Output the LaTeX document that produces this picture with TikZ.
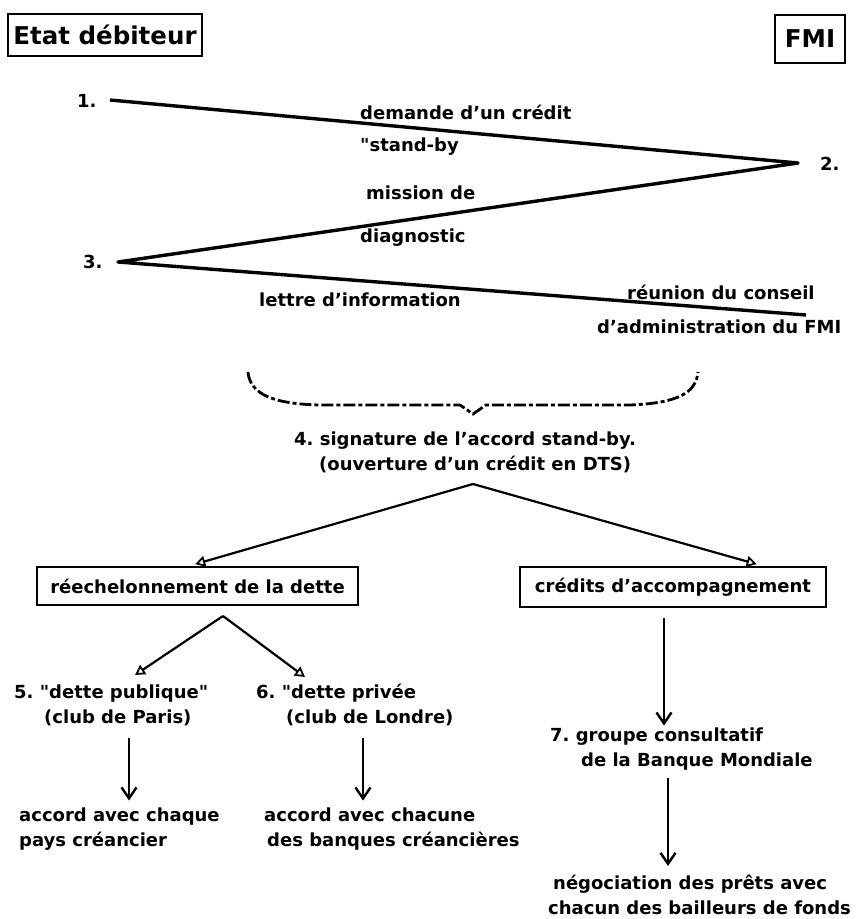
\documentclass[tikz,border=0pt]{standalone}
\usepackage{fontspec}
\setmainfont{DejaVu Sans}
\usetikzlibrary{arrows.meta, calc}

\begin{document}
\frenchspacing
\begin{tikzpicture}[x=1pt, y=-1pt,
    txt/.style={font=\bfseries\fontsize{18}{25}\selectfont, inner sep=0pt, align=left, anchor=west},
    party/.style={draw, line width=2.4pt, inner sep=0pt, font=\bfseries\fontsize{24.5}{28}\selectfont},
    stage/.style={draw, line width=2.4pt, inner sep=0pt, font=\bfseries\fontsize{18}{25}\selectfont},
    zig/.style={line width=3.4pt, line join=round},
    fork/.style={-{Triangle[open, length=10pt, width=11pt, line width=1.8pt]}, line width=2.2pt, shorten >=6pt},
    down/.style={-{Straight Barb[length=11pt, width=15pt]}, line width=2.4pt}
]
    \useasboundingbox (0,0) rectangle (863,919);

    % the two parties
    \node[party, minimum width=194pt, minimum height=42pt] (etat) at (105,35) {Etat débiteur};
    \node[party, minimum width=70pt, minimum height=48pt] (fmi) at (810,39) {FMI};

    % negotiation steps
    \node[txt] (n1) at (77,101) {1.};
    \node[txt] (n2) at (820,164) {2.};
    \node[txt] (n3) at (83,262) {3.};
    \coordinate (p1) at (110,100);
    \coordinate (p2) at (798,163);
    \coordinate (p3) at (118,262);
    \coordinate (p4) at (806,315);
    \draw[zig] (p1) -- (p2) -- (p3) -- (p4);

    \node[txt] (dem) at (360,112) {demande d'un crédit};
    \node[txt] (sby) at (360,147) {\textquotedbl stand-by};
    \node[txt] (mis) at (366,193) {mission de};
    \node[txt] (diag) at (360,238) {diagnostic};
    \node[txt] (lettre) at (259,300) {lettre d'information};
    \node[txt] (reun) at (627,292) {réunion du conseil};
    \node[txt] (admin) at (597,327) {d'administration du FMI};

    % brace
    \draw[line width=2.8pt, dash pattern=on 12pt off 3pt on 4pt off 3pt]
        (248,372) .. controls (250,395) and (275,404) .. (320,405) -- (460,405)
        -- (473,414) -- (486,405) -- (630,405) .. controls (680,403) and (696,392) .. (698,372);

    \node[txt] (sig) at (294,452) {4. signature de l'accord stand-by.\\\hspace*{25pt}(ouverture d'un crédit en DTS)};
    \coordinate (apex4) at (473,484);

    \node[stage, minimum width=321pt, minimum height=38pt] (resch) at (197.5,586) {réechelonnement de la dette};
    \node[stage, minimum width=306pt, minimum height=40pt] (accomp) at (673,587) {crédits d'accompagnement};

    \draw[fork] (apex4) -- ($(resch.north west)!0.475!(resch.north east)$);
    \draw[fork] (apex4) -- ($(accomp.north west)!0.79!(accomp.north east)$);

    % rescheduling branch
    \coordinate (apex5) at (223,616);
    \coordinate (tip5) at (135,675);
    \coordinate (tip6) at (305,677);
    \node[txt] (pub) at (14,705) {5. \textquotedbl dette publique\textquotedbl\\\hspace*{30pt}(club de Paris)};
    \node[txt] (priv) at (256,705) {6. \textquotedbl dette privée\\\hspace*{30pt}(club de Londre)};
    \draw[fork, shorten >=0pt] (apex5) -- (tip5);
    \draw[fork, shorten >=0pt] (apex5) -- (tip6);

    \node[txt] (accL) at (19,829) {accord avec chaque\\pays créancier};
    \node[txt] (accR) at (264,829) {accord avec chacune\\\hspace*{3pt}des banques créancières};
    \coordinate (c5) at (129,0);
    \coordinate (c6) at (363,0);
    \draw[down, shorten <=12pt, shorten >=7pt] (pub.south -| c5) -- (accL.north -| c5);
    \draw[down, shorten <=12pt, shorten >=7pt] (priv.south -| c6) -- (accR.north -| c6);

    % accompanying credits branch
    \node[txt] (grp) at (550,749) {7. groupe consultatif\\\hspace*{31pt}de la Banque Mondiale};
    \node[txt] (neg) at (548,895) {\hspace*{5pt}négociation des prêts avec\\chacun des bailleurs de fonds};
    \coordinate (c7) at (664,0);
    \coordinate (c8) at (668,0);
    \draw[down, shorten <=10pt, shorten >=2pt] (accomp.south -| c7) -- (grp.north -| c7);
    \draw[down, shorten <=8pt, shorten >=9pt] (grp.south -| c8) -- (neg.north -| c8);
\end{tikzpicture}
\end{document}
